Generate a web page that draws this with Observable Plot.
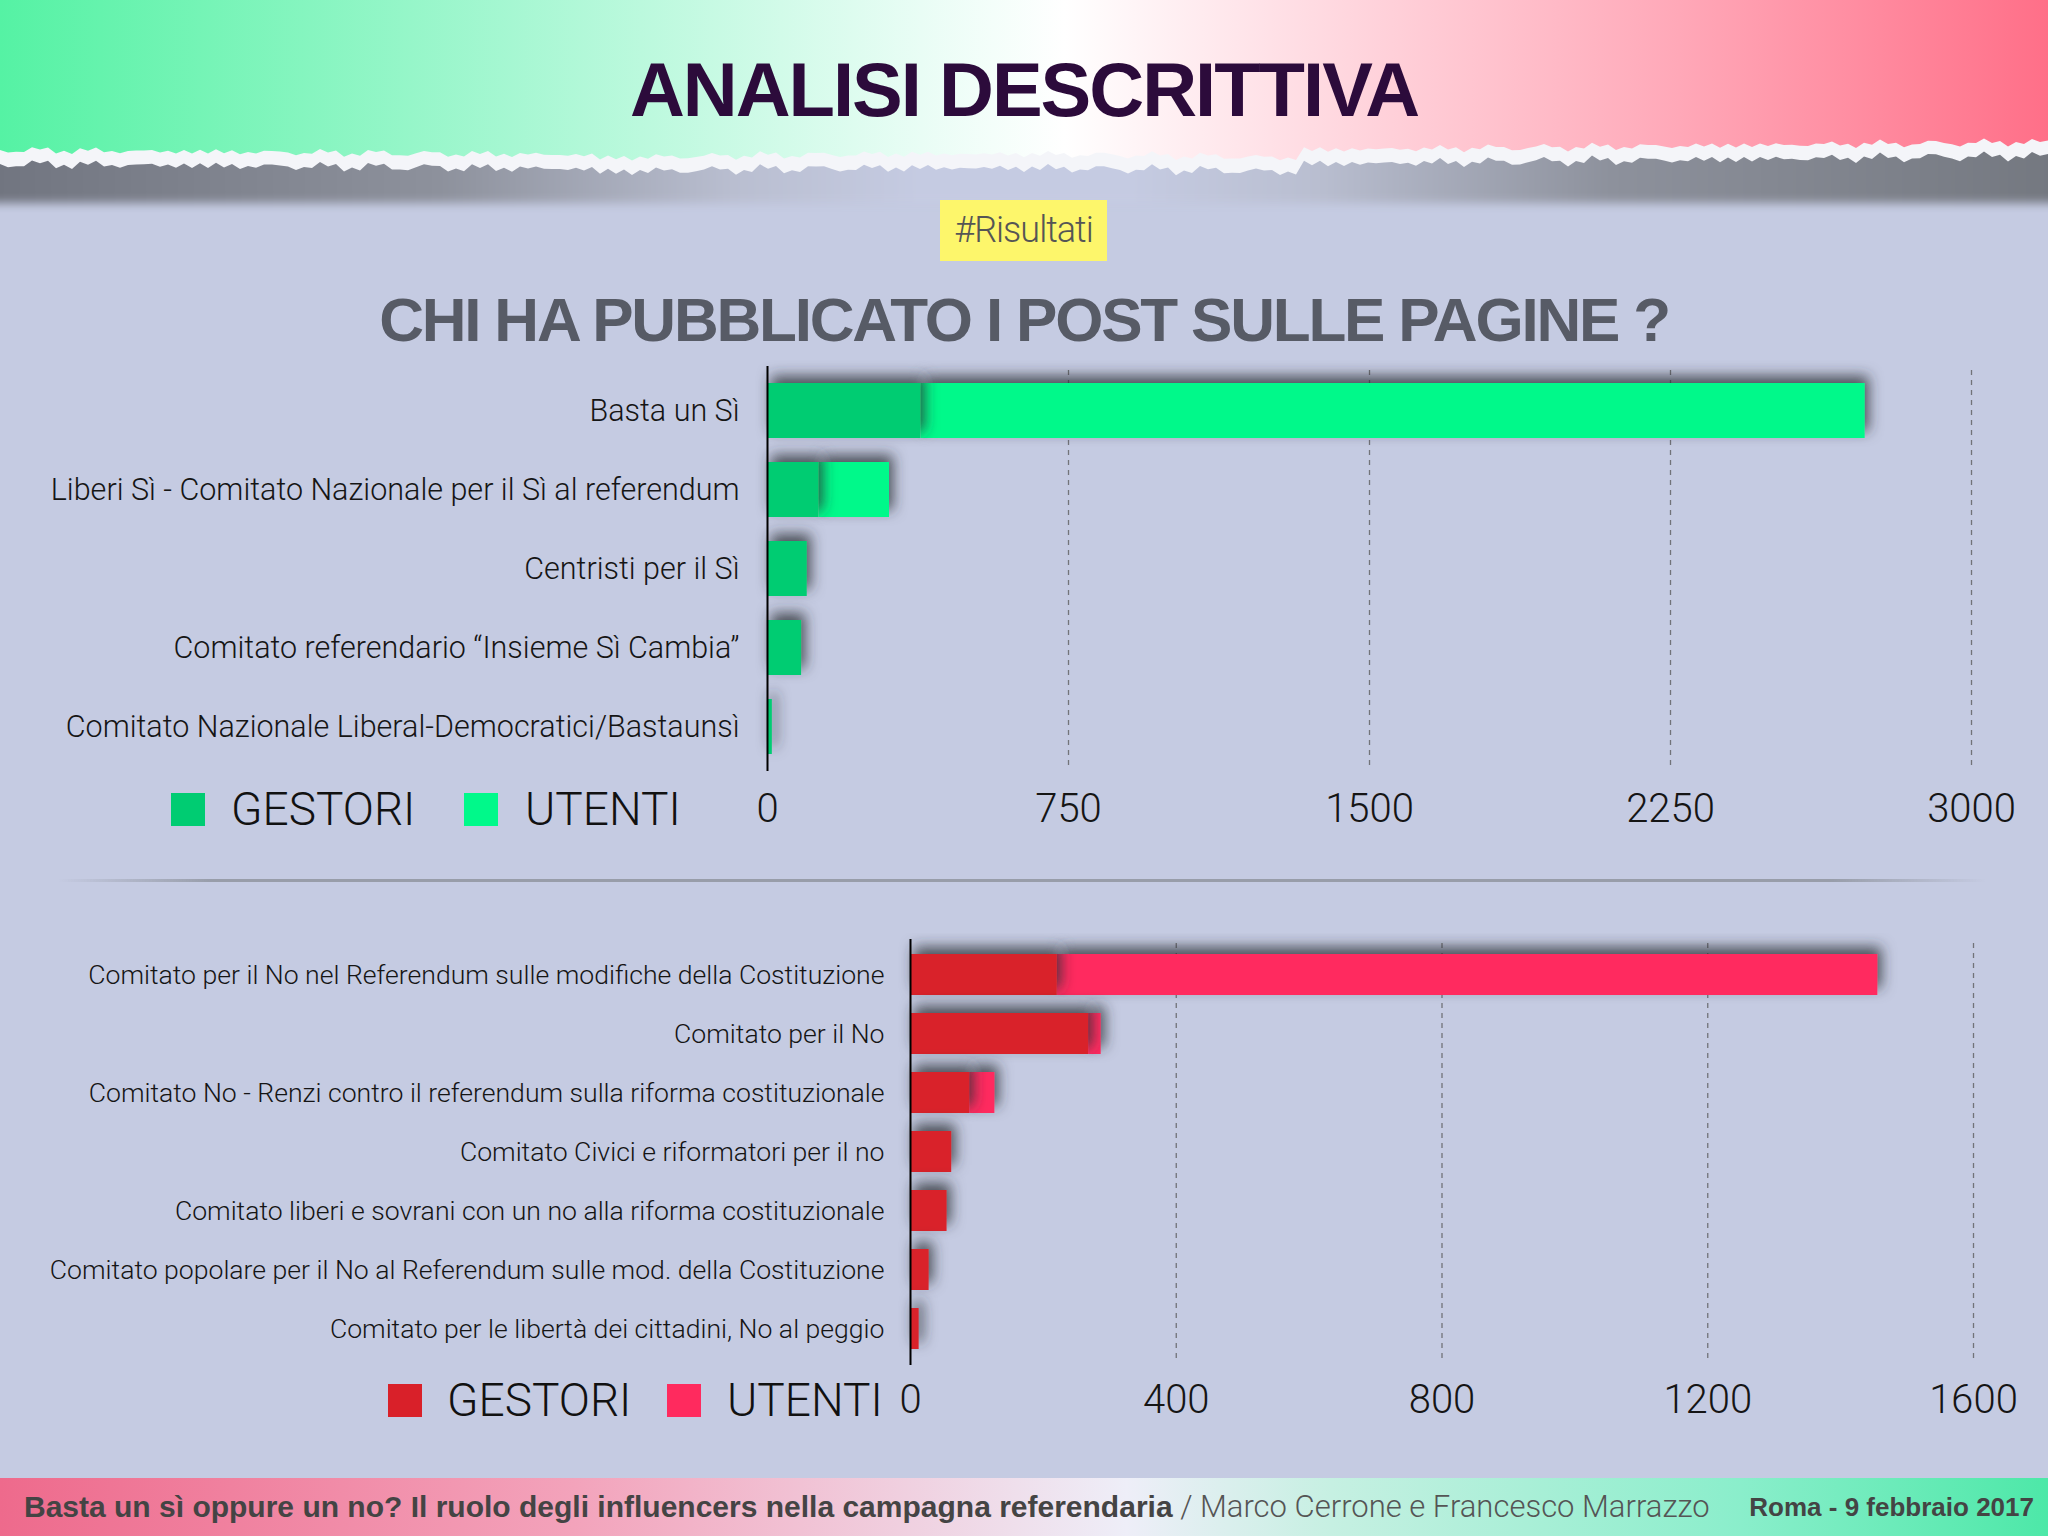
<!DOCTYPE html>
<html>
<head>
<meta charset="utf-8">
<script src="https://cdn.jsdelivr.net/npm/d3@7"></script>
<script src="https://cdn.jsdelivr.net/npm/@observablehq/plot@0.6"></script>
<style>
  html, body { margin: 0; padding: 0; }
  body { width: 2048px; height: 1536px; position: relative; overflow: hidden; background: #c5cbe2; font-family: Roboto, "Liberation Sans", sans-serif; }
  .abs { position: absolute; }
  #shadow { left: -20px; top: 128px; width: 2090px; height: 75px; background: linear-gradient(90deg, #70747f 0%, #8d919c 22%, #b9bed0 36%, #c5cbe2 45%, #c5cbe2 55%, #b9bed0 64%, #8d919c 78%, #73777f 100%); filter: blur(5px); }
  #paper { left: 0; top: 0; width: 2048px; height: 180px; background: #f4f5f9; }
  #header { left: 0; top: 0; width: 2048px; height: 170px; background: linear-gradient(90deg, #55f2a4 0%, #a6f7d2 25%, #e9fdf5 45%, #ffffff 52%, #ffe1e7 62%, #ffa8b8 82%, #ff6f88 100%); }
  #title { left: 0; top: 40px; width: 2048px; text-align: center; font: 700 76px "Liberation Sans", Arial, sans-serif; letter-spacing: -2px; color: #2c0b3b; line-height: 100px; }
  #tag { left: 940px; top: 200px; width: 167px; height: 61px; background: #fdf66b; color: #555; font: 300 36px Roboto, "Liberation Sans", sans-serif; line-height: 61px; text-align: center; letter-spacing: -1px; }
  #subtitle { left: 0; top: 280px; width: 2048px; text-align: center; font: 700 62px "Liberation Sans", Arial, sans-serif; letter-spacing: -2.2px; color: #575b66; line-height: 80px; }
  .leg { font: 300 46px Roboto, "Liberation Sans", sans-serif; color: #111; line-height: 46px; }
  .sw { width: 34px; height: 33px; }
  #sep { left: 59px; top: 879px; width: 1926px; height: 3px; background: linear-gradient(90deg, rgba(140,145,155,0) 0%, rgba(140,145,155,0.8) 8%, rgba(140,145,155,0.8) 92%, rgba(140,145,155,0) 100%); filter: blur(0.6px); }
  #footer { left: 0; top: 1478px; width: 2048px; height: 58px; background: linear-gradient(90deg, #ee6a8c 0%, #f3a3bb 28%, #eeeef8 55%, #c6f0e2 65%, #8aeecb 85%, #4de8a8 100%); }
  #footer .l { position: absolute; left: 24px; top: 0; line-height: 58px; color: #444; white-space: nowrap; }
  #footer .r { position: absolute; right: 14px; top: 0; line-height: 58px; font-size: 26px; color: #444; font-weight: 700; white-space: nowrap; font-family: "Liberation Sans", Arial, sans-serif; }
  #footer b { font-family: "Liberation Sans", Arial, sans-serif; font-weight: 700; font-size: 30px; }
  #footer span.lt { font-weight: 300; color: #555; font-size: 31px; font-family: Roboto, "Liberation Sans", sans-serif; }
</style>
</head>
<body>
<div id="shadow" class="abs"></div>
<div id="paper" class="abs"></div>
<div id="header" class="abs"></div>
<div id="title" class="abs">ANALISI DESCRITTIVA</div>
<div id="tag" class="abs">#Risultati</div>
<div id="subtitle" class="abs">CHI HA PUBBLICATO I POST SULLE PAGINE ?</div>
<div id="chartTop" class="abs" style="left:0;top:360px;"></div>
<div id="chartBottom" class="abs" style="left:0;top:933px;"></div>
<div id="legTop"></div>
<div id="legBottom"></div>
<div id="sep" class="abs"></div>
<div id="footer" class="abs">
  <div class="l"><b>Basta un sì oppure un no? Il ruolo degli influencers nella campagna referendaria</b><span class="lt"> / Marco Cerrone e Francesco Marrazzo</span></div>
  <div class="r">Roma - 9 febbraio 2017</div>
</div>
<script>
// ---- Data ----
const siCategories = [
  "Basta un Sì",
  "Liberi Sì - Comitato Nazionale per il Sì al referendum",
  "Centristi per il Sì",
  "Comitato referendario “Insieme Sì Cambia”",
  "Comitato Nazionale Liberal-Democratici/Bastaunsì"
];
const siGestori = [382, 128, 99, 85, 12];
const siUtenti = [2353, 176, 0, 0, 0];
const siTicks = [0, 750, 1500, 2250, 3000];

const noCategories = [
  "Comitato per il No nel Referendum sulle modifiche della Costituzione",
  "Comitato per il No",
  "Comitato No - Renzi contro il referendum sulla riforma costituzionale",
  "Comitato Civici e riformatori per il no",
  "Comitato liberi e sovrani con un no alla riforma costituzionale",
  "Comitato popolare per il No al Referendum sulle mod. della Costituzione",
  "Comitato per le libertà dei cittadini, No al peggio"
];
const noGestori = [221, 268, 89, 62, 55, 28, 13];
const noUtenti = [1235, 19, 38, 0, 0, 0, 0];
const noTicks = [0, 400, 800, 1200, 1600];

const seriesNames = ["GESTORI", "UTENTI"];
const siColors = ["#00cc72", "#00f98a"];
const noColors = ["#d92029", "#ff2a5e"];

// ---- Torn paper edges (decoration) ----
function tornPolygon(base, amp, id) {
  const pts = ["0px 0px", "2048px 0px"];
  for (let x = 2048; x >= 0; x -= 8) {
    const y = base(x) + amp * (Math.sin(x * 0.37) * 0.5 + Math.sin(x * 0.113) * 0.35 + Math.sin(x * 1.7) * 0.3);
    pts.push(x + "px " + y.toFixed(1) + "px");
  }
  document.getElementById(id).style.clipPath = "polygon(" + pts.join(",") + ")";
}
const edge = x => {
  if (x < 600) return 150 + (x / 600) * 5;
  if (x < 1300) return 158 - Math.sin((x - 600) / 700 * Math.PI) * 4;
  return 150 - (x - 1300) / 748 * 8;
};
tornPolygon(edge, 4, "header");
tornPolygon(x => edge(x) + 14, 5, "paper");

function buildChart(el, cats, gest, uten, ticks, colors, opts) {
  const data = cats.map((name, i) => ({name, gestori: gest[i], total: gest[i] + uten[i]}));
  const plot = Plot.plot({
    width: 2048,
    height: opts.height,
    marginLeft: opts.left,
    marginRight: 2048 - opts.right,
    marginTop: 10,
    marginBottom: opts.bottom,
    style: {background: "transparent", overflow: "visible", fontFamily: "Roboto, 'Liberation Sans', sans-serif"},
    x: {domain: [ticks[0], ticks[ticks.length - 1]], ticks: ticks, label: null},
    y: {domain: cats, label: null, paddingInner: 0.3, paddingOuter: 0.15},
    marks: [
      Plot.gridX(ticks.slice(1), {stroke: "#555", strokeOpacity: 0.75, strokeDasharray: "5,5", strokeWidth: 1.3}),
      Plot.barX(data, {y: "name", x1: "gestori", x2: "total", fill: colors[1]}),
      Plot.barX(data, {y: "name", x: "gestori", fill: colors[0]}),
      Plot.ruleX([0], {stroke: "#000", strokeWidth: 2, insetTop: -4, insetBottom: -4}),
      Plot.axisX({ticks: ticks, tickSize: 0, tickPadding: opts.xPad, fontSize: 40, fill: "#151515", fontWeight: 300, label: null, tickFormat: d => String(d)}),
      Plot.axisY({tickSize: 0, tickPadding: opts.yPad, fontSize: opts.yFont, fill: "#151515", fontWeight: 300, label: null})
    ]
  });
  const svg = d3.select(plot);
  const fid = "sh_" + el;
  svg.insert("defs", ":first-child").html(
    `<filter id="${fid}" filterUnits="userSpaceOnUse" x="0" y="0" width="2048" height="${opts.height}">
       <feDropShadow dx="4" dy="-7" stdDeviation="7" flood-color="#2a2d35" flood-opacity="0.8"/>
     </filter>`);
  svg.selectAll("g[aria-label=bar] rect").attr("filter", `url(#${fid})`);
  document.getElementById(el).appendChild(plot);
}

buildChart("chartTop", siCategories, siGestori, siUtenti, siTicks, siColors,
  {height: 477, left: 767, right: 1971, bottom: 70, xPad: 26, yPad: 28, yFont: 30.5});
buildChart("chartBottom", noCategories, noGestori, noUtenti, noTicks, noColors,
  {height: 498, left: 910, right: 1973, bottom: 70, xPad: 23, yPad: 26, yFont: 26.6});

function legend(id, colors, items) {
  const host = document.getElementById(id);
  items.forEach((it, i) => {
    const sw = document.createElement("div");
    sw.className = "abs sw";
    sw.style.left = it.sx + "px"; sw.style.top = it.y - 16 + "px"; sw.style.background = colors[i];
    host.appendChild(sw);
    const t = document.createElement("div");
    t.className = "abs leg";
    t.style.left = it.tx + "px"; t.style.top = it.y - 23 + "px";
    t.textContent = seriesNames[i];
    host.appendChild(t);
  });
}
legend("legTop", siColors, [{sx: 171, tx: 231, y: 809}, {sx: 464, tx: 525, y: 809}]);
legend("legBottom", noColors, [{sx: 388, tx: 447, y: 1400}, {sx: 667, tx: 727, y: 1400}]);
</script>
</body>
</html>
